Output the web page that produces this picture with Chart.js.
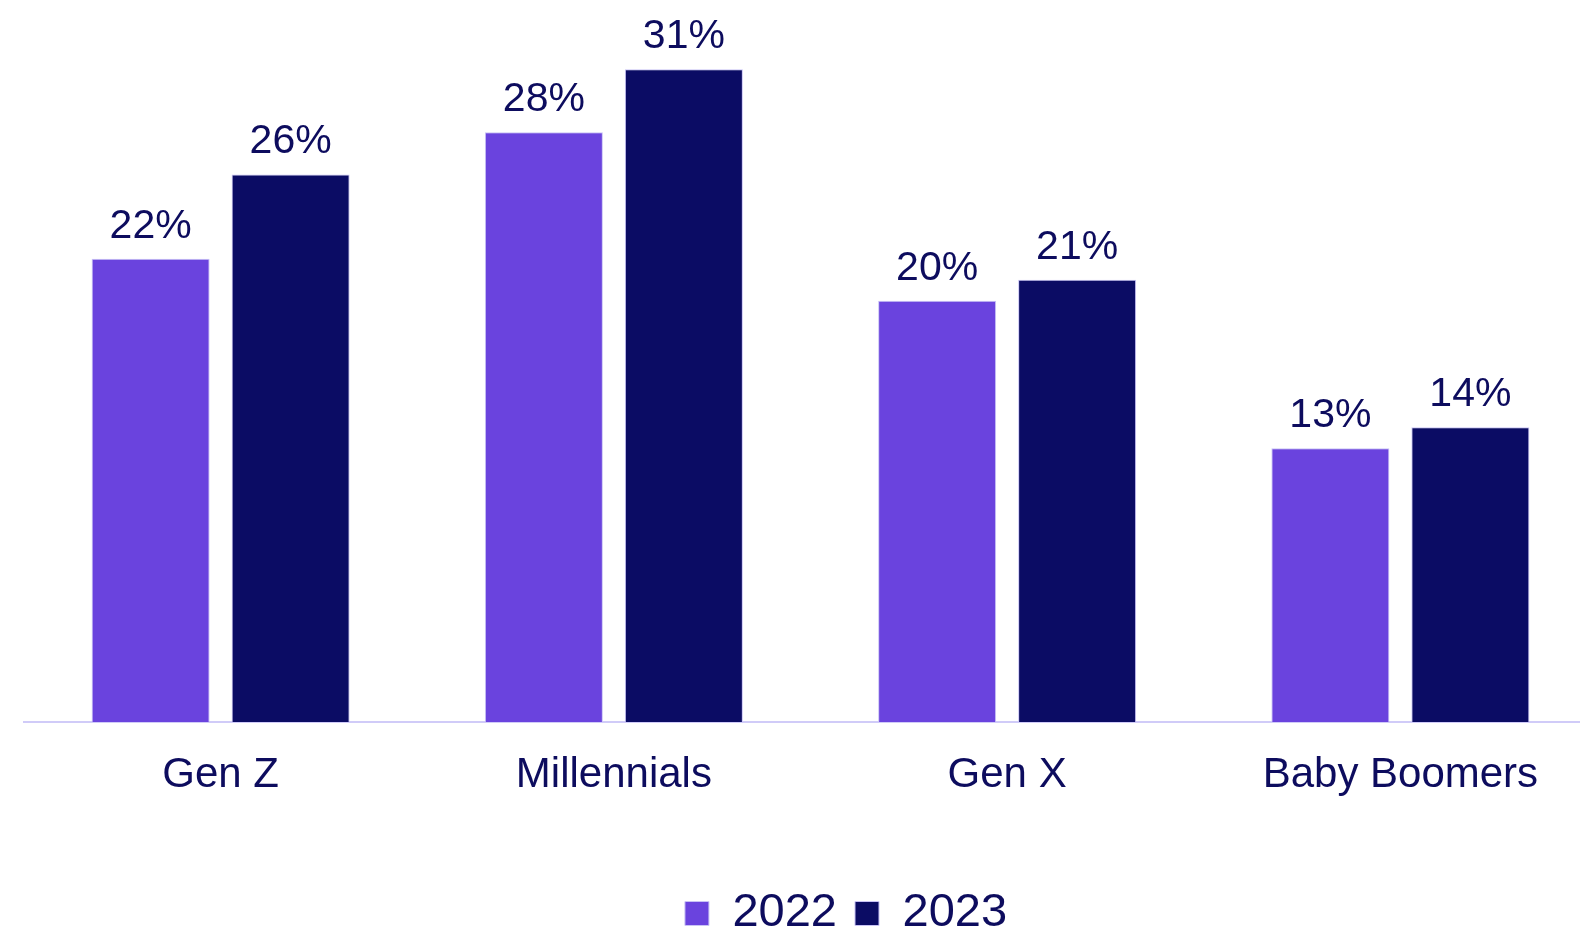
<!DOCTYPE html>
<html>
<head>
<meta charset="utf-8">
<title>Generations</title>
<script src="https://cdn.jsdelivr.net/npm/chart.js@4/dist/chart.umd.min.js"></script>
<style>
   html, body { margin: 0; padding: 0; background: #ffffff; overflow: hidden; }
   #wrap { position: absolute; left: 0; top: 0; width: 1692px; height: 932px; }
</style>
</head>
<body>
<div id="wrap"><canvas id="genChart"></canvas></div>
<script>
// Share by generation, 2022 vs 2023
const categories = ["Gen Z", "Millennials", "Gen X", "Baby Boomers"];
const years = ["2022", "2023"];
const values2022 = [22, 28, 20, 13];
const values2023 = [26, 31, 21, 14];

const PURPLE = "#6a43de";
const NAVY = "#0b0c64";
const TEXT = "#0d0c5e";
const FONT = "'Liberation Sans', Arial, sans-serif";

// Draws the "NN%" value above each bar
const valueLabels = {
   id: "valueLabels",
   afterDatasetsDraw(chart) {
      const ctx = chart.ctx;
      ctx.save();
      ctx.font = "41px " + FONT;
      ctx.fillStyle = TEXT;
      ctx.textAlign = "center";
      ctx.textBaseline = "alphabetic";
      chart.data.datasets.forEach((ds, i) => {
         chart.getDatasetMeta(i).data.forEach((bar, j) => {
            ctx.fillText(ds.data[j] + "%", bar.x, bar.y - 21);
         });
      });
      ctx.restore();
   },
};

// Empty side axes used only as fixed-width gutters
function gutter(position, width) {
   return {
      type: "linear",
      position: position,
      display: true,
      grid: { display: false, drawTicks: false },
      border: { display: false },
      ticks: { display: false },
      afterFit(scale) {
         scale.width = width;
      },
   };
}

const ctx = document.getElementById("genChart").getContext("2d");
new Chart(ctx, {
   type: "bar",
   data: {
      labels: categories,
      datasets: [
         {
            label: years[0],
            data: values2022,
            backgroundColor: PURPLE,
            borderColor: "#c9c3f5",
            borderWidth: 1,
            categoryPercentage: 0.712,
            barPercentage: 0.843,
         },
         {
            label: years[1],
            data: values2023,
            backgroundColor: NAVY,
            borderColor: "#c9c3f5",
            borderWidth: 1,
            categoryPercentage: 0.712,
            barPercentage: 0.843,
         },
      ],
   },
   options: {
      responsive: true,
      maintainAspectRatio: false,
      animation: false,
      layout: {
         padding: { left: 0, right: 0, top: 6, bottom: -15 },
      },
      plugins: {
         tooltip: { enabled: false },
         legend: {
            position: "bottom",
            labels: {
               color: TEXT,
               font: { family: FONT, size: 47 },
               boxWidth: 24,
               boxHeight: 24,
               padding: 18,
            },
         },
      },
      scales: {
         x: {
            grid: { display: false, drawTicks: false },
            border: { display: true, color: "#d0cbf8", width: 2 },
            ticks: {
               color: TEXT,
               font: { family: FONT, size: 42 },
               padding: 28,
            },
            afterFit(scale) {
               scale.height = 150;
            },
         },
         y: Object.assign(gutter("left", 24), { min: 0, max: 34 }),
         yRight: gutter("right", 95),
      },
   },
   plugins: [valueLabels],
});
</script>
</body>
</html>
